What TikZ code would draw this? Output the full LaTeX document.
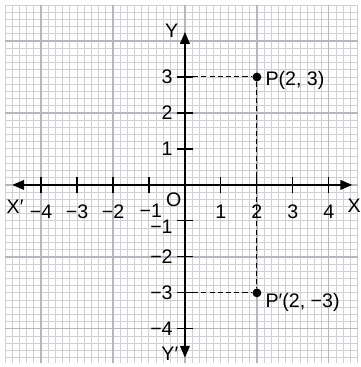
\documentclass[tikz,border=0pt]{standalone}
\usepackage{fontspec}
\setmainfont{Liberation Sans}
\usepackage{tikz}
\usetikzlibrary{arrows.meta,positioning}
\definecolor{gfine}{RGB}{208,208,213}
\definecolor{gmaj}{RGB}{182,182,188}
\tikzset{
  fgrd/.style={gfine, line width=0.75pt},
  mgrd/.style={gmaj, line width=1pt},
  axs/.style={{Triangle[length=3.3mm,width=2.7mm]}-{Triangle[length=3.3mm,width=2.7mm]}, line width=1.3pt},
  tck/.style={line width=0.9pt},
  dsh/.style={line width=0.8pt, dash pattern=on 4pt off 2.5pt},
  pdot/.style={circle, fill=black, inner sep=0pt, minimum size=7pt},
  lbl/.style={font=\fontsize{15.5}{17}\selectfont, inner sep=1pt},
}

\begin{document}
\begin{tikzpicture}[scale=1.0]
\useasboundingbox (-5.14,-5.06) rectangle (4.89,5.14);
% graph paper
\draw[fgrd] (-5,-4.95) grid[step=0.2] (4.8,5);
\draw[mgrd] (-5,-4.95) grid[step=2] (4.8,5);
% axes
\coordinate (xl) at (-4.8,0); \coordinate (xr) at (4.65,0);
\coordinate (yt) at (0,4.25); \coordinate (yb) at (0,-4.8);
\draw[axs] (xl) -- (xr);
\draw[axs] (yb) -- (yt);
\foreach \x in {-4,...,-1,1,2,3,4} \draw[tck] (\x,-0.22) -- (\x,0.22);
\foreach \y in {-4,...,-1,1,2,3} \draw[tck] (-0.22,\y) -- (0.22,\y);
% tick labels
\foreach \x in {1,2,3,4} \node[lbl] (xn\x) at (\x,-0.75) {\x};
\foreach \x in {2,3,4} \node[lbl] (xm\x) at (-\x,-0.75) {−\x};
\node[lbl] (xm1) at (-0.95,-0.73) {−1};
\foreach \y in {1,2,3} \node[lbl, anchor=east] (yn\y) at (-0.3,\y) {\y};
\node[lbl, anchor=east] (ym1) at (-0.3,-1.17) {−1};
\foreach \y in {2,3,4} \node[lbl, anchor=east] (ym\y) at (-0.3,-\y) {−\y};
\node[lbl] (org) at (-0.31,-0.4) {O};
\node[lbl] (xlab) at (4.7,-0.59) {X};
\node[lbl] (xplab) at (-4.72,-0.6) {X′};
\node[lbl] (ylab) at (-0.37,4.28) {Y};
\node[lbl] (yplab) at (-0.42,-4.7) {Y′};
% points
\node[pdot] (P) at (2,3) {};
\node[pdot] (Pp) at (2,-3) {};
\node[lbl, anchor=west] (Plab) at (2.2,2.9) {P(2, 3)};
\node[lbl, anchor=west] (Pplab) at (2.2,-3.27) {P′(2, −3)};
\coordinate (y3) at (0,3); \coordinate (ym3) at (0,-3);
\draw[dsh] (y3) -- (P);
\draw[dsh] (P) -- (Pp);
\draw[dsh] (ym3) -- (Pp);
\end{tikzpicture}
\end{document}
